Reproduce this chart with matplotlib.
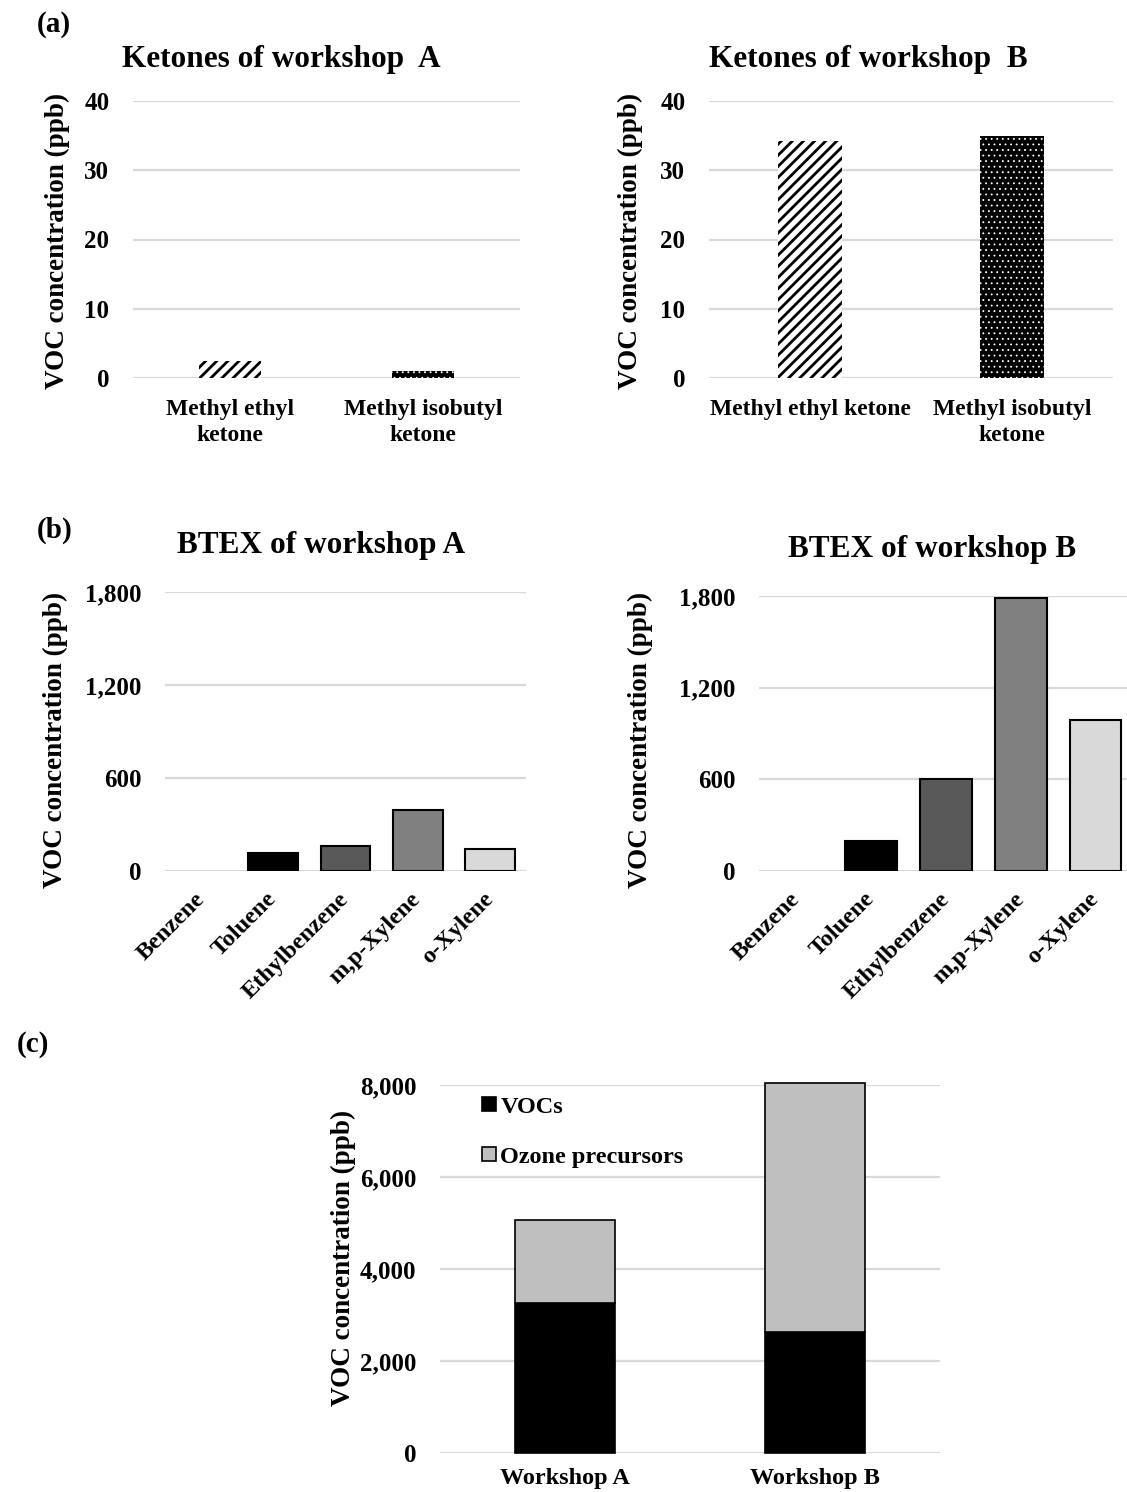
import numpy as np
import matplotlib.pyplot as plt

plt.rcParams['font.family'] = 'Liberation Serif'
plt.rcParams['font.weight'] = 'bold'
plt.rcParams['hatch.linewidth'] = 2.0

W, H = 1127, 1492

# (a) ketones
ketones_a_labels = ['Methyl ethyl\nketone', 'Methyl isobutyl\nketone']
ketones_b_labels = ['Methyl ethyl ketone', 'Methyl isobutyl\nketone']
ketone_a = [2.5, 1.0]
ketone_b = [34.2, 35.0]

# (b) BTEX
btex = ['Benzene', 'Toluene', 'Ethylbenzene', 'm,p-Xylene', 'o-Xylene']
btex_a = [0, 119, 162, 394, 143]
btex_b = [0, 196, 601, 1790, 988]
btex_colors = ['white', 'black', '#595959', '#808080', '#d9d9d9']

# (c) totals
workshops = ['Workshop A', 'Workshop B']
vocs = [3270, 2640]
ozone = [1795, 5410]

GRID = '#d9d9d9'


def px_axes(fig, x0, y0, x1, y1):
    # pixel box (top-left origin) -> figure axes
    return fig.add_axes([x0 / W, 1 - y1 / H, (x1 - x0) / W, (y1 - y0) / H])


def style(ax, ylim, yticks, fmt='{:,.0f}'):
    ax.set_ylim(*ylim)
    ax.set_yticks(yticks)
    ax.set_yticklabels([fmt.format(t) for t in yticks])
    ax.yaxis.grid(True, color=GRID, lw=1.6)
    ax.set_axisbelow(True)
    for s in ax.spines.values():
        s.set_visible(False)
    ax.tick_params(length=0, labelsize=18)
    ax.tick_params(axis='y', pad=17)


def ylab(fig, x, y, size=19.5):
    fig.text(x / W, 1 - y / H, 'VOC concentration (ppb)', rotation=90,
             ha='center', va='center', fontsize=size, fontweight='bold')


def title(fig, x, y, s):
    fig.text(x / W, 1 - y / H, s, ha='center', va='center', fontsize=22.5, fontweight='bold')


def panel(fig, x, y, s):
    fig.text(x / W, 1 - y / H, s, ha='left', va='center', fontsize=21, fontweight='bold')


fig = plt.figure(figsize=(W / 100, H / 100), dpi=100)

# ---- (a)
panel(fig, 37, 25, '(a)')
for (box, vals, labels, tx, ttl, yx) in [
        ((133, 101, 520, 378), ketone_a, ketones_a_labels, 281, 'Ketones of workshop  A', 57),
        ((709, 101, 1113, 378), ketone_b, ketones_b_labels, 868, 'Ketones of workshop  B', 630)]:
    ax = px_axes(fig, *box)
    x = np.arange(2)
    ax.bar(x[0], vals[0], width=0.32, color='white', edgecolor='black', hatch='///', lw=0)
    ax.bar(x[1], vals[1], width=0.32, color='black', lw=0)
    dots = ax.bar(x[1], vals[1], width=0.32, color='none', edgecolor='white', hatch='...', lw=0)
    for p in dots:
        if hasattr(p, 'set_hatch_linewidth'):
            p.set_hatch_linewidth(0.6)
    ax.set_xlim(-0.5, 1.5)
    style(ax, (0, 40), [0, 10, 20, 30, 40])
    ax.set_xticks(x)
    ax.set_xticklabels(labels, fontsize=17, linespacing=1.3)
    ax.tick_params(axis='x', pad=15)
    title(fig, tx, 60, ttl)
    ylab(fig, yx, 241)

# ---- (b)
panel(fig, 37, 530, '(b)')
for (box, vals, tx, ty, ttl, yx) in [
        ((165, 592, 526, 871), btex_a, 321, 545, 'BTEX of workshop A', 55),
        ((759, 596, 1133, 871), btex_b, 932, 549, 'BTEX of workshop B', 640)]:
    ax = px_axes(fig, *box)
    x = np.arange(len(btex))
    v = np.array(vals)
    shown = v > 0
    ax.bar(x[shown], v[shown], width=0.69, color=np.array(btex_colors)[shown],
           edgecolor='black', lw=1.5)
    ax.set_xlim(-0.5, 4.5)
    style(ax, (0, 1800), [0, 600, 1200, 1800])
    ax.set_xticks(x)
    ax.set_xticklabels(btex, fontsize=17.5, rotation=45, ha='right', va='center',
                       rotation_mode='anchor')
    ax.tick_params(axis='x', pad=18)
    title(fig, tx, ty, ttl)
    ylab(fig, yx, 740)

# ---- (c)
panel(fig, 17, 1044, '(c)')
ax = px_axes(fig, 440, 1085, 940, 1453)
x = np.arange(2)
ax.bar(x, vocs, width=0.4, color='black', edgecolor='black', lw=1.2, label='VOCs',
       clip_on=False)
ax.bar(x, ozone, width=0.4, bottom=vocs, color='#bfbfbf', edgecolor='black', lw=1.2,
       label='Ozone precursors', clip_on=False)
ax.set_xlim(-0.5, 1.5)
style(ax, (0, 8000), [0, 2000, 4000, 6000, 8000])
ax.set_xticks(x)
ax.set_xticklabels(workshops, fontsize=17.5)
ax.tick_params(axis='x', pad=11)
ax.legend(loc='upper left', bbox_to_anchor=(0.065, 0.995), frameon=False, fontsize=17.5,
          handlelength=0.55, handleheight=0.55, handletextpad=0.2, labelspacing=1.2,
          borderaxespad=0)
ylab(fig, 343, 1258)

fig.savefig('out.png', dpi=100)
